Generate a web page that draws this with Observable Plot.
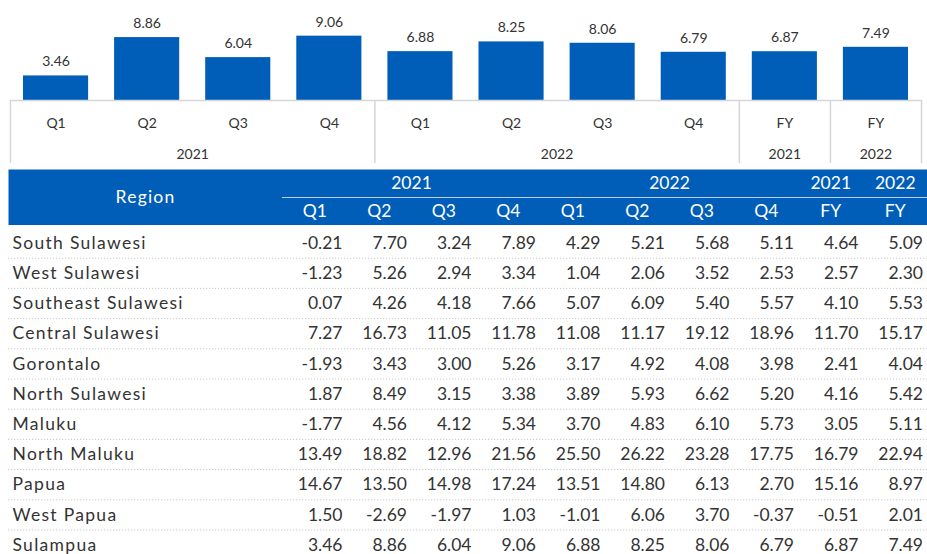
<!DOCTYPE html>
<html>
<head>
<meta charset="utf-8">
<script src="https://cdn.jsdelivr.net/npm/d3@7"></script>
<script src="https://cdn.jsdelivr.net/npm/@observablehq/plot@0.6"></script>
<style>
  html, body { margin: 0; padding: 0; background: #fff; overflow: hidden; }
  #chart svg, #head svg, #body svg { display: block; }
</style>
</head>
<body>
<div id="chart"></div>
<div id="head"></div>
<div id="body"></div>
<script>
// ---- data ----
const periods = ["Q1", "Q2", "Q3", "Q4", "Q1", "Q2", "Q3", "Q4", "FY", "FY"];
const groupLabels = ["2021", "2022", "2021", "2022"];
const groupSizes = [4, 4, 1, 1];
const sulampua = [3.46, 8.86, 6.04, 9.06, 6.88, 8.25, 8.06, 6.79, 6.87, 7.49];

const regions = ["South Sulawesi", "West Sulawesi", "Southeast Sulawesi", "Central Sulawesi",
  "Gorontalo", "North Sulawesi", "Maluku", "North Maluku", "Papua", "West Papua", "Sulampua"];
const southSulawesi     = [-0.21, 7.70, 3.24, 7.89, 4.29, 5.21, 5.68, 5.11, 4.64, 5.09];
const westSulawesi      = [-1.23, 5.26, 2.94, 3.34, 1.04, 2.06, 3.52, 2.53, 2.57, 2.30];
const southeastSulawesi = [0.07, 4.26, 4.18, 7.66, 5.07, 6.09, 5.40, 5.57, 4.10, 5.53];
const centralSulawesi   = [7.27, 16.73, 11.05, 11.78, 11.08, 11.17, 19.12, 18.96, 11.70, 15.17];
const gorontalo         = [-1.93, 3.43, 3.00, 5.26, 3.17, 4.92, 4.08, 3.98, 2.41, 4.04];
const northSulawesi     = [1.87, 8.49, 3.15, 3.38, 3.89, 5.93, 6.62, 5.20, 4.16, 5.42];
const maluku            = [-1.77, 4.56, 4.12, 5.34, 3.70, 4.83, 6.10, 5.73, 3.05, 5.11];
const northMaluku       = [13.49, 18.82, 12.96, 21.56, 25.50, 26.22, 23.28, 17.75, 16.79, 22.94];
const papua             = [14.67, 13.50, 14.98, 17.24, 13.51, 14.80, 6.13, 2.70, 15.16, 8.97];
const westPapua         = [1.50, -2.69, -1.97, 1.03, -1.01, 6.06, 3.70, -0.37, -0.51, 2.01];
const tableValues = [southSulawesi, westSulawesi, southeastSulawesi, centralSulawesi, gorontalo,
  northSulawesi, maluku, northMaluku, papua, westPapua, sulampua];

// ---- derived tables ----
const blue = "#005EB8";
const ink = "#333333";
const font = "Lato, 'Noto Sans', sans-serif";

const bars = sulampua.map((v, i) => ({i, v, q: periods[i]}));
const groups = [];
{ let s = 0; groupSizes.forEach((n, k) => { groups.push({label: groupLabels[k], start: s, end: s + n}); s += n; }); }
const boundaries = [0, ...groups.map(g => g.end)];

// ---- bar chart ----
const chart = Plot.plot({
  width: 927, height: 169,
  marginLeft: 10, marginRight: 6, marginTop: 0, marginBottom: 69,
  style: {fontFamily: font, fontSize: "14px", color: ink, background: "#fff"},
  x: {type: "linear", domain: [0, periods.length], axis: null},
  y: {domain: [0, 14.08], axis: null},
  marks: [
    Plot.rect(bars, {x1: d => d.i, x2: d => d.i + 1, y1: 0, y2: "v", insetLeft: 13, insetRight: 13, fill: blue}),
    Plot.text(bars, {x: d => d.i + 0.5, y: "v", text: d => d.v.toFixed(2), dy: -14, fill: ink, fontSize: 14}),
    Plot.ruleY([0], {stroke: "#d6d6d6", strokeWidth: 1.5}),
    Plot.ruleX(boundaries, {x: d => d, y1: 0, y2: 0, insetBottom: -63, stroke: "#d6d6d6", strokeWidth: 1.5}),
    Plot.text(bars, {x: d => d.i + 0.5, y: 0, text: "q", dy: 23, fill: ink, fontSize: 14}),
    Plot.text(groups, {x: d => (d.start + d.end) / 2, y: 0, text: "label", dy: 54, fill: ink, fontSize: 14})
  ]
});
document.getElementById("chart").append(chart);

// ---- table header ----
const colLeft = 282, colRight = 927, tableLeft = 8;
const colW = (colRight - colLeft) / periods.length;
const regionCenter = -((colLeft - tableLeft) / colW) / 2;

const head = Plot.plot({
  width: 927, height: 56,
  marginLeft: tableLeft, marginRight: 0, marginTop: 0, marginBottom: 0,
  style: {fontFamily: font, fontSize: "17.5px", background: "#fff"},
  x: {type: "linear", domain: [0, periods.length], range: [colLeft, colRight], axis: null},
  y: {type: "linear", domain: [0, 2], range: [0, 56], axis: null},
  marks: [
    Plot.frame({fill: blue, stroke: null}),
    Plot.ruleY([1], {x1: 0, x2: periods.length, stroke: "#b9cfe9", strokeWidth: 1}),
    Plot.text(["Region"], {x: regionCenter, y: 1, text: d => d, fill: "white", fontSize: 17.5}),
    Plot.text(groups, {x: d => (d.start + d.end) / 2, y: 0.5, text: "label", fill: "white", fontSize: 17.5}),
    Plot.text(bars, {x: d => d.i + 0.5, y: 1.5, text: "q", fill: "white", fontSize: 17.5})
  ]
});
document.getElementById("head").append(head);
// widen the wordy labels a little, as in the reference typeface
head.querySelector('g[aria-label="text"]').style.letterSpacing = "1.2px";

// ---- table body ----
const cells = [];
tableValues.forEach((row, r) => row.forEach((v, j) => cells.push({r, j, v})));
const rowObjs = regions.map((name, r) => ({r, name}));
const rowH = 30.2;

const body = Plot.plot({
  width: 927, height: 329,
  marginLeft: tableLeft, marginRight: 0, marginTop: 0, marginBottom: 0,
  style: {fontFamily: font, fontSize: "17.5px", background: "#fff"},
  x: {type: "linear", domain: [0, periods.length], range: [colLeft, colRight], axis: null},
  y: {type: "linear", domain: [0, regions.length], range: [2.5, 2.5 + rowH * regions.length], axis: null},
  marks: [
    Plot.ruleY(d3.range(1, regions.length + 1), {stroke: "#c8c8c8", strokeDasharray: "1.2,1.8", strokeWidth: 1}),
    Plot.text(rowObjs, {frameAnchor: "left", y: d => d.r + 0.5, text: "name", textAnchor: "start", dx: 4, fill: ink, fontSize: 17.5}),
    Plot.text(cells, {x: d => d.j + 1, y: d => d.r + 0.5, text: d => d.v.toFixed(2), textAnchor: "end", dx: -4.5, fill: ink, fontSize: 17.5})
  ]
});
document.getElementById("body").append(body);
body.querySelector('g[aria-label="text"]').style.letterSpacing = "1.3px";
</script>
</body>
</html>
